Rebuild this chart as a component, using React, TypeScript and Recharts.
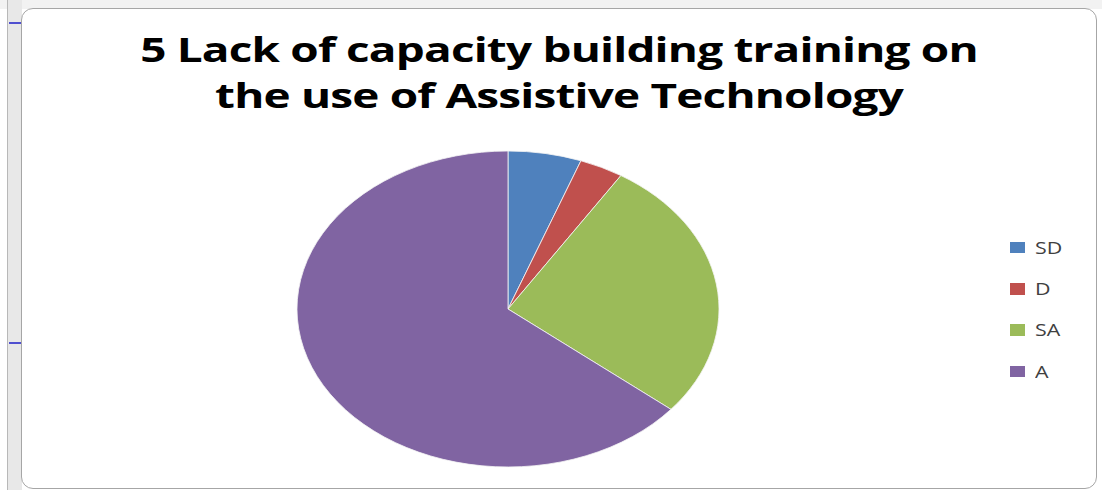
import React from "react";
import { PieChart, Pie, Cell, Legend } from "recharts";

const categories = ["SD", "D", "SA", "A"];
const values = [5, 3, 24, 57];
const colors = ["#4f81bd", "#c0504d", "#9bbb59", "#8064a2"];
const titleLines = [
  "5 Lack of capacity building training on",
  "the use of Assistive Technology",
];

const data = categories.map((name, i) => ({ name, value: values[i] }));

const CX = 508;
const CY = 309;
const RY = 158;
const STRETCH = 211 / 158;

const renderLegend = (props: any) => {
  const payload = [...(props.payload || [])].sort(
    (a: any, b: any) => categories.indexOf(a.value) - categories.indexOf(b.value)
  );
  return (
    <div style={{ fontFamily: "'Open Sans', 'DejaVu Sans', sans-serif", fontSize: 16, color: "#404040" }}>
      {payload.map((entry: any, i: number) => (
        <div key={i} style={{ display: "flex", alignItems: "center", height: 41.3 }}>
          <span
            style={{
              display: "inline-block",
              width: 15,
              height: 11.5,
              background: entry.color,
              marginRight: 10,
            }}
          />
          <span style={{ display: "inline-block", transform: `scaleX(${STRETCH})`, transformOrigin: "0 50%" }}>
            {entry.value}
          </span>
        </div>
      ))}
    </div>
  );
};

export default function App() {
  return (
    <div style={{ position: "absolute", left: 0, top: 0, width: 1102, height: 490, background: "#ffffff", overflow: "hidden" }}>
      <style>{`
        .pie-wrap g.recharts-pie { transform: scaleX(${STRETCH}); transform-origin: ${CX}px ${CY}px; transform-box: view-box; }
      `}</style>
      {/* spreadsheet-like surroundings */}
      <div style={{ position: "absolute", left: 0, top: 0, width: 1102, height: 9, background: "#f2f2f2" }} />
      <div style={{ position: "absolute", left: 7, top: 0, width: 14, height: 490, background: "#e8e8e8", borderLeft: "1.5px solid #b8b8b8" }} />
      <div style={{ position: "absolute", left: 9, top: 22, width: 12, height: 2, background: "#5050d0" }} />
      <div style={{ position: "absolute", left: 9, top: 342, width: 12, height: 2, background: "#5050d0" }} />
      {/* chart frame */}
      <div
        style={{
          position: "absolute",
          left: 21,
          top: 8,
          width: 1074,
          height: 479,
          border: "1.5px solid #a6a6a6",
          borderRadius: 12,
          background: "#ffffff",
        }}
      />
      <div
        style={{
          position: "absolute",
          left: 22,
          top: 26,
          width: 1074,
          textAlign: "center",
          fontFamily: "'Open Sans', 'DejaVu Sans', sans-serif",
          fontWeight: 700,
          fontSize: 34,
          lineHeight: "46px",
          color: "#000000",
          letterSpacing: -0.6,
          transform: "scaleX(1.35)",
          transformOrigin: "537px 0",
        }}
      >
        {titleLines.map((t, i) => (
          <div key={i}>{t}</div>
        ))}
      </div>
      <div className="pie-wrap" style={{ position: "absolute", left: 0, top: 0 }}>
        <PieChart width={1102} height={490} margin={{ top: 0, right: 0, bottom: 0, left: 0 }}>
          <Pie
            data={data}
            dataKey="value"
            nameKey="name"
            cx={CX}
            cy={CY}
            outerRadius={RY}
            startAngle={90}
            endAngle={-270}
            stroke="#f4f4f4"
            strokeWidth={0.7}
            isAnimationActive={false}
            legendType="square"
          >
            {data.map((d, i) => (
              <Cell key={d.name} fill={colors[i]} />
            ))}
          </Pie>
          <Legend
            layout="vertical"
            itemSorter={null as any}
            content={renderLegend}
            wrapperStyle={{ position: "absolute", left: 1010, top: 227, width: 80 }}
          />
        </PieChart>
      </div>
    </div>
  );
}
